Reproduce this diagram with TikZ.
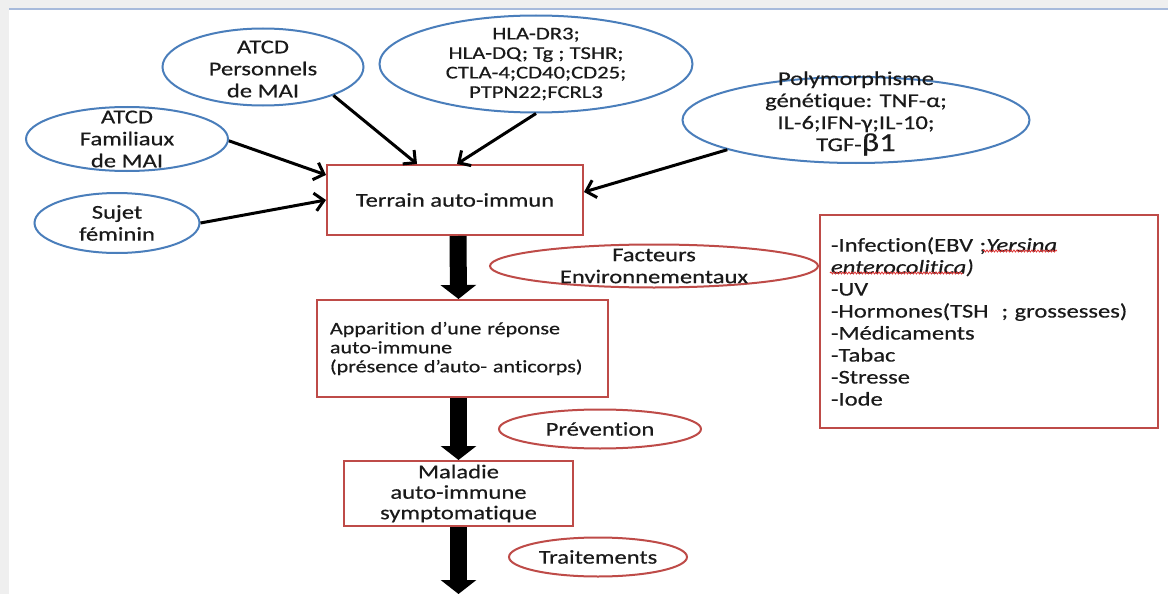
\documentclass[tikz,border=0pt]{standalone}
\usepackage{fontspec}
\setmainfont{Carlito}[FakeStretch=1.26, FakeBold=0.5, Ligatures=NoCommon]
\usetikzlibrary{arrows.meta,shapes.geometric,decorations.pathmorphing}
\definecolor{ellblue}{HTML}{4A7EBB}
\definecolor{boxred}{HTML}{BE4B48}
\definecolor{txt}{HTML}{1A1A1A}
\definecolor{framegray}{HTML}{EFEFEF}
\definecolor{frameblue}{HTML}{A7BADB}
\definecolor{wavered}{HTML}{E03030}
\newcommand\fs[2]{\fontsize{#1}{#2}\selectfont}
\begin{document}
\begin{tikzpicture}[x=1pt,y=-1pt,
  every node/.style={text=txt},
  bell/.style={ellipse, draw=ellblue, line width=2pt, inner sep=0pt},
  rell/.style={ellipse, draw=boxred, line width=2pt, inner sep=0pt},
  rbox/.style={rectangle, draw=boxred, line width=2pt, inner sep=0pt},
  lbl/.style={align=center, font=\fs{19.5}{22}, text=txt},
  thinarrow/.style={line width=3pt, draw=black, -{Straight Barb[length=9pt,width=18pt]}},
  blockarrow/.style={line width=17pt, draw=black, -{Triangle[length=14pt,width=35pt]}},
  spellwave/.style={draw=wavered, line width=0.8pt, decorate, decoration={snake, amplitude=1pt, segment length=3pt}}
]
\useasboundingbox (0,0) rectangle (1168,594);
\fill[white] (0,0) rectangle (1168,594);
% slide frame
\fill[framegray] (0,0) rectangle (1168,8);
\fill[framegray] (0,0) rectangle (9,594);
\fill[frameblue] (9,8) rectangle (1168,10);

% ellipses
\node[bell, minimum width=201pt, minimum height=77pt,
  label={[lbl, yshift=-2pt]center:ATCD\\Personnels\\de MAI}] (pers) at (263,67) {};
\node[bell, minimum width=202pt, minimum height=64pt,
  label={[lbl]center:ATCD\\Familiaux\\de MAI}] (fam) at (127,139) {};
\node[bell, minimum width=165pt, minimum height=60pt,
  label={[lbl]center:Sujet\\féminin}] (sujet) at (117,223) {};
\node[bell, minimum width=313pt, minimum height=97pt,
  label={[lbl, font=\fs{18}{19.5}]center:HLA-DR3;\\HLA-DQ; Tg ; TSHR;\\CTLA-4;CD40;CD25;\\PTPN22;FCRL3}] (hla) at (536,64) {};
\node[bell, minimum width=347pt, minimum height=86pt,
  label={[lbl, yshift=6.5pt]center:Polymorphisme\\génétique: TNF-α;\\IL-6;IFN-γ;IL-10;\\TGF-{\fs{26}{22}β1}}] (poly) at (856,120) {};
\node[rell, minimum width=328pt, minimum height=43pt,
  label={[lbl]center:Facteurs\\Environnementaux}] (fact) at (654,266) {};
\node[rell, minimum width=202pt, minimum height=39pt,
  label={[lbl]center:Prévention}] (prev) at (600,429) {};
\node[rell, minimum width=178pt, minimum height=39pt,
  label={[lbl]center:Traitements}] (trait) at (598,557) {};

% boxes
\node[rbox, minimum width=256pt, minimum height=70pt, font=\fs{19.5}{22}] (terrain) at (455,200) {Terrain auto-immun};
\node[rbox, minimum width=291pt, minimum height=97pt, text width=265pt, align=left, font=\fs{17.5}{19}] (app) at (462.5,348.5)
  {Apparition d’une réponse\\auto-immune\\(présence d’auto- anticorps)};
\node[rbox, minimum width=229pt, minimum height=65pt, align=center, font=\fs{19.5}{20.5}] (mal) at (458.5,493.5)
  {Maladie\\auto-immune\\symptomatique};
\node[rbox, minimum width=338pt, minimum height=213pt, text width=316pt, align=left, font=\fs{19.5}{22}] (env) at (989,321.5)
  {-Infection(EBV ;\textit{Yersina}\\\textit{enterocolitica)}\\-UV\\-Hormones(TSH\ \ ; grossesses)\\-Médicaments\\-Tabac\\-Stresse\\-Iode};
% spell-check underlines
\draw[spellwave] ([xshift=164pt,yshift=-37pt]env.north west) -- ([xshift=238pt,yshift=-37pt]env.north west);
\draw[spellwave] ([xshift=11pt,yshift=-59pt]env.north west) -- ([xshift=144pt,yshift=-59pt]env.north west);

% thin arrows
\draw[thinarrow] (fam.-1) -- (terrain.169.4);
\draw[thinarrow] (sujet.east) -- (terrain.west);
\draw[thinarrow] (pers.-22) -- ([xshift=-38pt]terrain.north);
\draw[thinarrow] (hla.south) -- ([xshift=2pt]terrain.north);
\draw[thinarrow] (poly.193) -- ([yshift=8pt]terrain.east);

% block arrows
\coordinate (bottomend) at (458.5,594);
\draw[blockarrow] ([xshift=3pt]terrain.south) -- ([xshift=-4pt]app.north);
\draw[blockarrow] ([xshift=-4pt]app.south) -- (mal.north);
\draw[blockarrow] (mal.south) -- (bottomend);
\end{tikzpicture}
\end{document}
